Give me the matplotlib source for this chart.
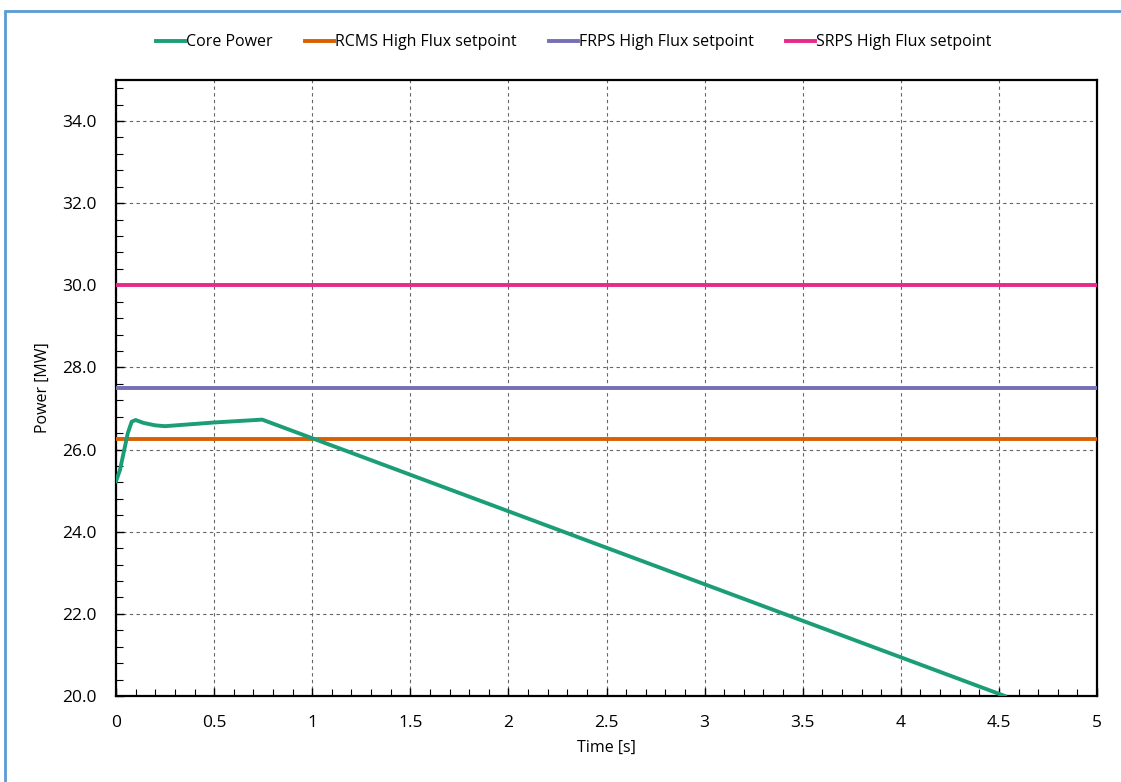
import matplotlib.pyplot as plt
from matplotlib.ticker import MultipleLocator, FormatStrFormatter, FuncFormatter
from matplotlib.patches import Rectangle

# core power trace
time_s = [0.0, 0.02, 0.04, 0.06, 0.08, 0.10, 0.14, 0.20, 0.25, 0.50, 0.745, 4.53]
core_power = [25.23, 25.5, 25.95, 26.4, 26.68, 26.72, 26.65, 26.59, 26.57, 26.66, 26.73, 20.0]

# trip setpoints [MW]
setpoint_names = ['RCMS High Flux setpoint', 'FRPS High Flux setpoint', 'SRPS High Flux setpoint']
setpoint_values = [26.25, 27.5, 30.0]
setpoint_colors = ['#d95f02', '#7570b3', '#e7298a']

plt.rcParams['font.family'] = ['Open Sans', 'DejaVu Sans']

fig = plt.figure(figsize=(11.21, 7.82), dpi=100)
ax = fig.add_axes([0.1035, 0.110, 0.8751, 0.7877])

ax.plot(time_s, core_power, color='#1b9e77', lw=2.8, label='Core Power', zorder=4)
for name, val, col in zip(setpoint_names, setpoint_values, setpoint_colors):
    ax.plot([0, 5], [val, val], color=col, lw=2.8, label=name, zorder=3)

ax.set_xlim(0, 5)
ax.set_ylim(20, 35)
ax.xaxis.set_major_locator(MultipleLocator(0.5))
ax.xaxis.set_minor_locator(MultipleLocator(0.1))
ax.yaxis.set_major_locator(MultipleLocator(2))
ax.yaxis.set_minor_locator(MultipleLocator(0.4))
ax.yaxis.set_major_formatter(FormatStrFormatter('%.1f'))
ax.xaxis.set_major_formatter(FuncFormatter(lambda v, p: f'{v:g}'))
ax.tick_params(which='both', direction='in', labelsize=12.5, colors='black')
ax.tick_params(which='major', length=6, width=1)
ax.tick_params(which='minor', length=5, width=0.8)
ax.tick_params(axis='x', pad=14)
ax.tick_params(axis='y', pad=14)
ax.tick_params(top=False, right=False, which='both')
ax.grid(True, which='major', ls=(0, (3, 3)), color='#666666', lw=0.8)
for sp in ax.spines.values():
    sp.set_linewidth(1.6)

ax.set_xlabel('Time [s]', fontsize=11.5, labelpad=6)
ax.set_ylabel('Power [MW]', fontsize=11.5, labelpad=8)

fig.legend(loc='center', bbox_to_anchor=(0.512, 0.946), ncol=4, frameon=False,
           fontsize=11.5, handlelength=1.8, handletextpad=0.1, columnspacing=2.0)

# light blue frame around the chart area
fig.patches.append(Rectangle((5 / 1121, -0.05), 1.2, 1 - 11 / 782 + 0.05,
                             transform=fig.transFigure, fill=False,
                             edgecolor='#5b9bd5', lw=2))

fig.savefig('out.png', dpi=100)
